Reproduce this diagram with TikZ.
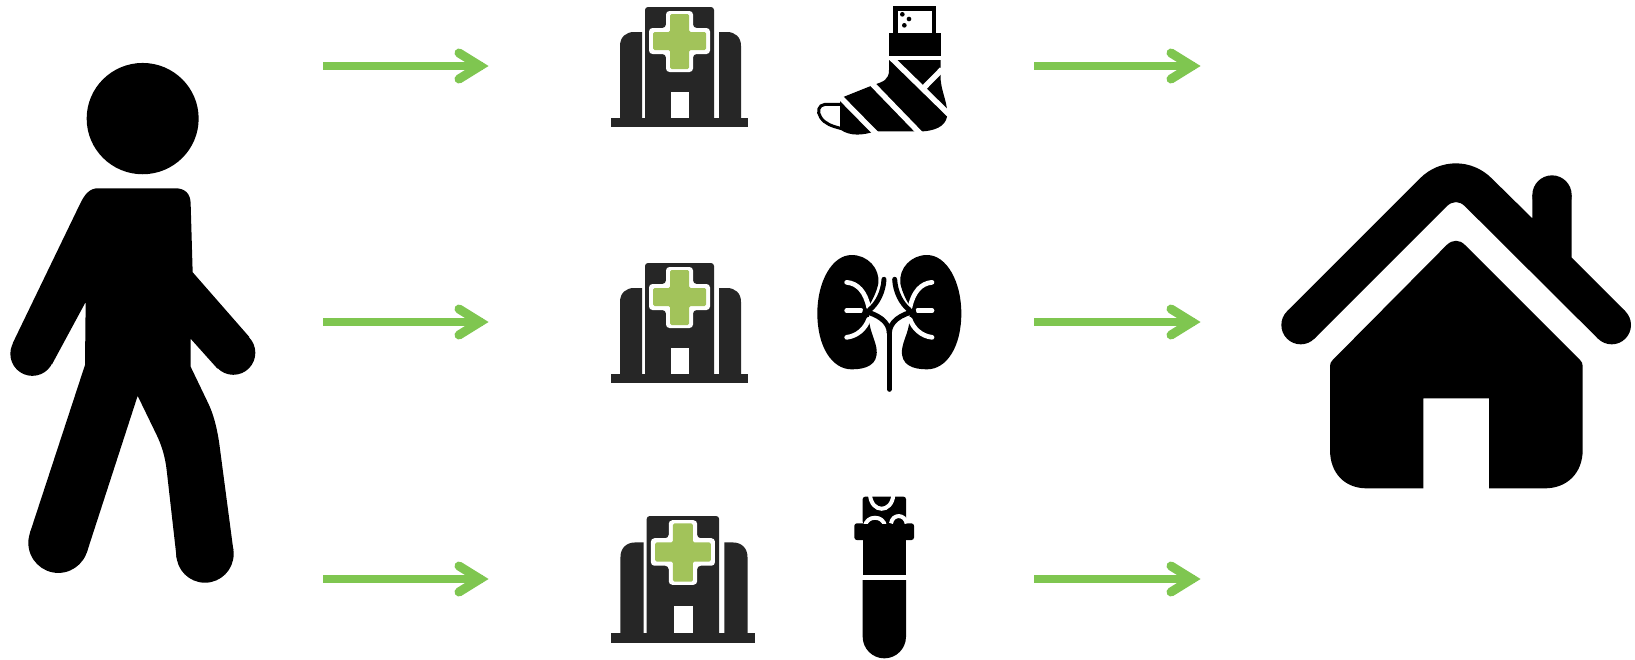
\documentclass[tikz,border=0pt]{standalone}
\usetikzlibrary{arrows.meta}
\definecolor{flowgreen}{HTML}{7FC650}
\definecolor{crossgreen}{HTML}{A2C35A}
\definecolor{hospdark}{HTML}{262626}
\pgfdeclarearrow{
  name=FlowHead,
  setup code={
    \pgfarrowssettipend{0pt}
    \pgfarrowssetlineend{-6pt}
    \pgfarrowssetvisualtipend{0pt}
    \pgfarrowssetbackend{-35pt}
    \pgfarrowssetvisualbackend{-6pt}
  },
  drawing code={
    \pgfsetlinewidth{9pt}
    \pgfsetroundcap
    \pgfsetmiterjoin
    \pgfsetdash{}{0pt}
    \pgfpathmoveto{\pgfqpoint{-30pt}{13pt}}
    \pgfpathlineto{\pgfqpoint{-9pt}{0pt}}
    \pgfpathlineto{\pgfqpoint{-30pt}{-13pt}}
    \pgfusepathqstroke
  }
}
\tikzset{
  flowarrow/.style={draw=flowgreen,line width=8pt,-{FlowHead[]}},
  ink/.style={fill=black,draw=none},
  gapline/.style={draw=white,line width=4.7pt,line cap=round},
  castgap/.style={draw=white,line width=5.5pt},
  inkline/.style={draw=black,line width=5pt,line cap=round},
  hospital/.pic={
    \fill[hospdark] (0,111) rectangle (137,120);
    \fill[hospdark,rounded corners=3pt] (34,115) -- (34,0) -- (103,0) -- (103,115) -- cycle;
    \fill[hospdark] (9,111) -- (9,39) .. controls (9,30) and (15,25) .. (23,25) -- (31,25) -- (31,111) -- cycle;
    \fill[hospdark] (130,111) -- (130,39) .. controls (130,30) and (124,25) .. (116,25) -- (108,25) -- (108,111) -- cycle;
    \fill[white,rounded corners=3.5pt] (55,4) -- (82,4) -- (82,21) -- (99,21) -- (99,47) -- (82,47) -- (82,65) -- (55,65) -- (55,47) -- (38,47) -- (38,21) -- (55,21) -- cycle;
    \fill[crossgreen,rounded corners=1.5pt] (59,7) -- (78,7) -- (78,25) -- (95,25) -- (95,43) -- (78,43) -- (78,62) -- (59,62) -- (59,43) -- (42,43) -- (42,25) -- (59,25) -- cycle;
    \fill[white] (60,85) rectangle (78,111);
  }
}
\begin{document}
\begin{tikzpicture}[x=1pt,y=-1pt]
\useasboundingbox (0,0) rectangle (1635,659);
\fill[white] (0,0) rectangle (1635,659);

% person
\begin{scope}[shift={(0,50)},xscale=1/3,yscale=0.35]
  \fill[ink] (428,196) ellipse [x radius=168,y radius=159];
  \fill[ink] (240,440) .. controls (255,410) and (270,395) .. (295,395) -- (525,395)
    .. controls (555,395) and (572,410) .. (572,440) -- (578,635) -- (748,820) -- (652,910)
    -- (572,825) -- (572,905) -- (625,1010) .. controls (645,1050) and (655,1100) .. (660,1140)
    -- (700,1428) -- (530,1452) -- (500,1200) .. controls (495,1160) and (485,1130) .. (470,1100)
    -- (413,988) -- (260,1437) -- (90,1379) -- (255,900) -- (257,720) -- (156,898) -- (38,838) -- cycle;
  \fill[ink] (700,865) ellipse [x radius=66,y radius=63];
  \fill[ink] (97,868) ellipse [x radius=66,y radius=63];
  \fill[ink] (175,1408) ellipse [x radius=90,y radius=86];
  \fill[ink] (615,1440) ellipse [x radius=86,y radius=82];
\end{scope}

% house
\begin{scope}[shift={(1270,150)},scale=1/3]
  \fill[ink] (51,484) -- (450,85) .. controls (510,25) and (605,25) .. (665,85) -- (787,205)
    -- (787,135) -- (905,135) -- (905,323) -- (1066,484) -- (984,566) -- (585,169)
    .. controls (568,152) and (548,152) .. (530,169) -- (133,566) -- cycle;
  \fill[ink] (846,135) circle [radius=59];
  \fill[ink] (92,525) circle [radius=58];
  \fill[ink] (1025,525) circle [radius=58];
  \fill[ink] (530,285) .. controls (548,268) and (568,268) .. (585,285) -- (930,630)
    .. controls (935,635) and (938,640) .. (938,648) -- (938,900)
    .. controls (938,970) and (890,1015) .. (825,1015) -- (657,1015) -- (657,745) -- (460,745) -- (460,1015)
    -- (290,1015) .. controls (225,1015) and (180,970) .. (180,900) -- (180,648)
    .. controls (180,640) and (183,635) .. (188,630) -- cycle;
\end{scope}

% hospitals
\pic at (611,7) {hospital};
\pic at (611,263) {hospital};
\pic[xscale=1.05,yscale=1.058] at (611,516) {hospital};

% cast foot
\begin{scope}[shift={(590,0)},scale=1/3]
  \fill[ink] (910,18) rectangle (1038,100);
  \fill[white] (925,33) rectangle (1025,100);
  \fill[ink] (937,43) circle [radius=7];
  \fill[ink] (957,57) circle [radius=7];
  \fill[ink] (943,76) circle [radius=7];
  \fill[ink] (897,98) rectangle (1052,167);
  \draw[black,line width=3pt] (752,313) -- (705,313) .. controls (685,315) and (680,335) .. (692,352)
     .. controls (705,372) and (725,378) .. (755,386);
  \fill[ink] (897,180) -- (1052,180) -- (1052,240) .. controls (1056,280) and (1070,300) .. (1072,340)
     .. controls (1072,370) and (1050,390) .. (1000,394) -- (855,394)
     .. controls (820,406) and (780,410) .. (750,388) -- (750,295) -- (850,255)
     .. controls (880,245) and (897,240) .. (897,210) -- cycle;
  \draw[castgap] (904,174) -- (1080,346);
  \draw[castgap] (1056,208) -- (1000,265);
  \draw[castgap] (846,251) -- (992,402);
  \draw[castgap] (750,291) -- (862,405);
\end{scope}

% kidneys
\begin{scope}[shift={(590,250)},scale=1/3]
  \foreach \m in {1,-1}{
  \begin{scope}[shift={(898,0)},xscale=\m]
    \fill[ink] (113,15) .. controls (172,15) and (216,95) .. (216,190)
      .. controls (216,290) and (172,358) .. (113,358)
      .. controls (70,358) and (34,345) .. (38,300)
      .. controls (40,275) and (58,245) .. (60,215)
      -- (63,170) .. controls (50,150) and (38,125) .. (33,100)
      .. controls (28,55) and (65,15) .. (113,15) -- cycle;
    \draw[gapline] (128,97) .. controls (95,100) and (72,125) .. (62,172);
    \draw[gapline] (128,182) -- (85,182);
    \draw[gapline] (128,262) .. controls (95,258) and (72,235) .. (62,208);
    \draw[inkline] (16,88) .. controls (18,125) and (35,160) .. (60,180);
    \draw[inkline,line cap=butt] (80,183) .. controls (35,192) and (0,215) .. (0,250);
  \end{scope}}
  \draw[inkline] (898,240) -- (898,418);
\end{scope}

% test tube
\begin{scope}[shift={(590,490)},scale=1/3]
  \fill[ink] (818,270) -- (948,270) -- (948,440) arc [start angle=0,end angle=180,radius=65] -- cycle;
  \fill[ink] (818,150) rectangle (948,256);
  \fill[ink,rounded corners=2.5pt] (793,100) rectangle (972,150);
  \fill[ink,rounded corners=2.5pt] (818,20) rectangle (948,102);
  \begin{scope}
    \clip (810,20) rectangle (955,100);
    \draw[gapline,line width=4pt,line cap=butt] (840,15) .. controls (845,70) and (905,70) .. (910,15);
    \draw[gapline,line width=4pt,line cap=butt] (825,108) .. controls (830,75) and (880,75) .. (885,108);
    \draw[gapline,line width=4pt,line cap=butt] (903,100) .. controls (908,70) and (945,72) .. (950,100);
  \end{scope}
\end{scope}

% arrows
\coordinate (in1s) at (323,66);  \coordinate (in1e) at (489,66);
\coordinate (in2s) at (323,322); \coordinate (in2e) at (489,322);
\coordinate (in3s) at (323,579); \coordinate (in3e) at (489,579);
\coordinate (out1s) at (1034,66);  \coordinate (out1e) at (1201,66);
\coordinate (out2s) at (1034,322); \coordinate (out2e) at (1201,322);
\coordinate (out3s) at (1034,579); \coordinate (out3e) at (1201,579);
\foreach \a/\b in {in1s/in1e,in2s/in2e,in3s/in3e,out1s/out1e,out2s/out2e,out3s/out3e}
  \draw[flowarrow] (\a) -- (\b);
\end{tikzpicture}
\end{document}
